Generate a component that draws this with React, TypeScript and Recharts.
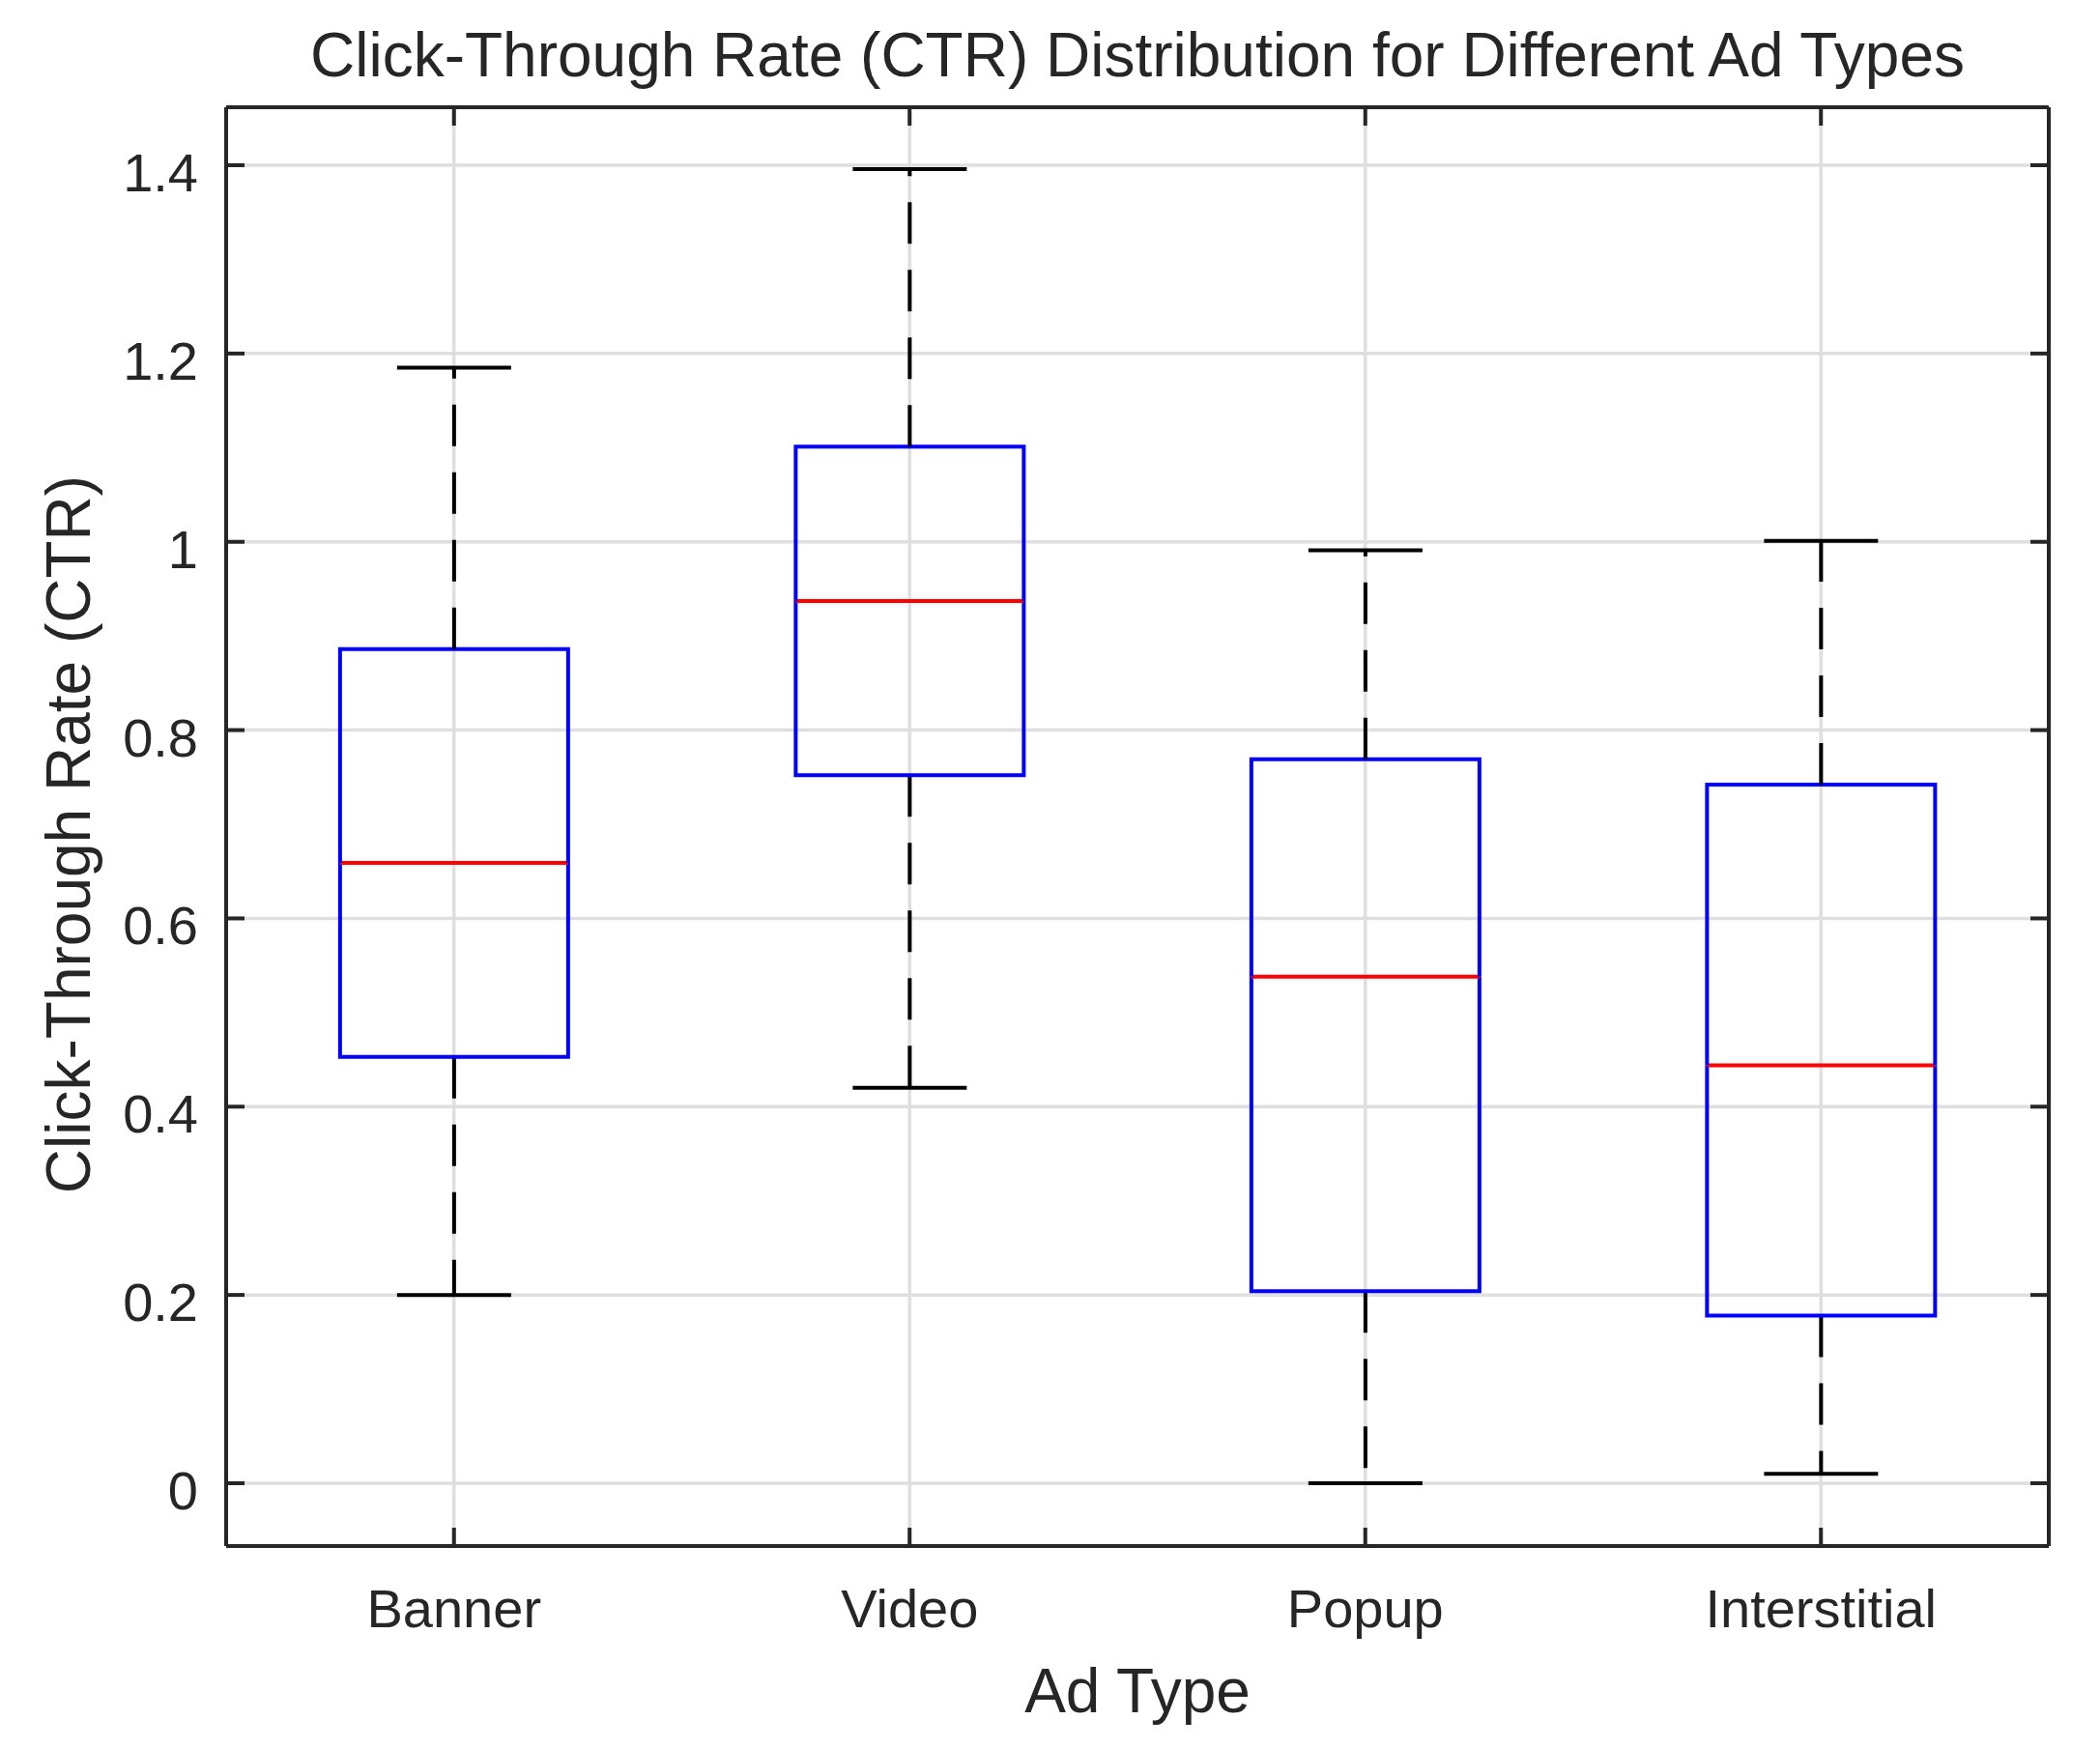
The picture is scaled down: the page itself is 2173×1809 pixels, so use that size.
import { Bar, CartesianGrid, ComposedChart, Label, XAxis, YAxis } from "recharts";

// box plot summary
const categories = ["Banner", "Video", "Popup", "Interstitial"];
const lowerWhisker = [0.2, 0.42, 0.0, 0.01];
const q1 = [0.453, 0.752, 0.204, 0.178];
const median = [0.659, 0.937, 0.538, 0.444];
const q3 = [0.886, 1.101, 0.769, 0.742];
const upperWhisker = [1.185, 1.396, 0.991, 1.001];
const yTicks = [0, 0.2, 0.4, 0.6, 0.8, 1, 1.2, 1.4];

const Y_MIN = -0.0667;
const Y_MAX = 1.4616;

const WIDTH = 2150;
const HEIGHT = 1795;
const FONT = '"Liberation Sans", Arial, Helvetica, sans-serif';
const TEXT = "#262626";
const AXIS = "#262626";
const GRID = "#dfdfdf";
const BOX = "#0000ff";
const MEDIAN = "#ff0000";
const WHISKER = "#000000";
const TICK_LEN = 19;

// stacked segments: invisible base, lower whisker, lower box half, upper box half, upper whisker
const data = categories.map((name, i) => ({
    name,
    base: lowerWhisker[i],
    lowW: q1[i] - lowerWhisker[i],
    boxLow: median[i] - q1[i],
    boxHigh: q3[i] - median[i],
    highW: upperWhisker[i] - q3[i],
}));

function formatTick(v: number) {
    return String(Number(v.toFixed(1)));
}

const LeftTick = (props: any) => {
    const { x, y, payload } = props;
    return <g>
        <line x1={x} x2={x + TICK_LEN} y1={y} y2={y} stroke={AXIS} strokeWidth={4} />
        <text x={x - 29} y={y + 27} textAnchor="end" fontSize={56} fontFamily={FONT} fill={TEXT}>{formatTick(payload.value)}</text>
    </g>
}

const RightTick = (props: any) => {
    const { x, y } = props;
    return <line x1={x} x2={x - TICK_LEN} y1={y} y2={y} stroke={AXIS} strokeWidth={4} />
}

const BottomTick = (props: any) => {
    const { x, y, payload } = props;
    return <g>
        <line x1={x} x2={x} y1={y} y2={y - TICK_LEN} stroke={AXIS} strokeWidth={4} />
        <text x={x} y={y + 84} textAnchor="middle" fontSize={56} fontFamily={FONT} fill={TEXT}>{payload.value}</text>
    </g>
}

const TopTick = (props: any) => {
    const { x, y } = props;
    return <line x1={x} x2={x} y1={y} y2={y + TICK_LEN} stroke={AXIS} strokeWidth={4} />
}

const TitleLabel = (props: any) => {
    const vb = props.viewBox;
    return <text x={vb.x + vb.width / 2} y={vb.y - 31} textAnchor="middle" fontSize={64} fontFamily={FONT} fill={TEXT}>
        Click-Through Rate (CTR) Distribution for Different Ad Types
    </text>
}

const XLabel = (props: any) => {
    const vb = props.viewBox;
    return <text x={vb.x + vb.width / 2} y={vb.y + 172} textAnchor="middle" fontSize={64} fontFamily={FONT} fill={TEXT}>Ad Type</text>
}

const YLabel = (props: any) => {
    const vb = props.viewBox;
    const cx = vb.x - 140;
    const cy = vb.y + vb.height / 2 + 8;
    return <text x={cx} y={cy} transform={`rotate(-90, ${cx}, ${cy})`} textAnchor="middle" fontSize={64} fontFamily={FONT} fill={TEXT}>
        Click-Through Rate (CTR)
    </text>
}

const EmptyShape = () => <g />;

const LowWhisker = (props: any) => {
    const { x, y, width, height } = props;
    const cx = x + width / 2;
    const capHalf = width / 4;
    return <g>
        <line x1={cx} x2={cx} y1={y} y2={y + height} stroke={WHISKER} strokeWidth={4} strokeDasharray="43 27" />
        <line x1={cx - capHalf} x2={cx + capHalf} y1={y + height} y2={y + height} stroke={WHISKER} strokeWidth={4} />
    </g>
}

const HighWhisker = (props: any) => {
    const { x, y, width, height } = props;
    const cx = x + width / 2;
    const capHalf = width / 4;
    return <g>
        <line x1={cx} x2={cx} y1={y + height} y2={y} stroke={WHISKER} strokeWidth={4} strokeDasharray="43 27" />
        <line x1={cx - capHalf} x2={cx + capHalf} y1={y} y2={y} stroke={WHISKER} strokeWidth={4} />
    </g>
}

const BoxLow = (props: any) => {
    const { x, y, width, height } = props;
    const bottom = y + height;
    return <g>
        <path d={`M${x},${y} L${x},${bottom} L${x + width},${bottom} L${x + width},${y}`} fill="none" stroke={BOX} strokeWidth={4} />
        <line x1={x} x2={x + width} y1={y} y2={y} stroke={MEDIAN} strokeWidth={4} />
    </g>
}

const BoxHigh = (props: any) => {
    const { x, y, width, height } = props;
    const bottom = y + height;
    return <path d={`M${x},${bottom} L${x},${y} L${x + width},${y} L${x + width},${bottom}`} fill="none" stroke={BOX} strokeWidth={4} />
}

const App = () => {
    return <div style={{ width: WIDTH, height: HEIGHT, background: "#fff" }}>
        <ComposedChart width={WIDTH} height={HEIGHT} data={data} barCategoryGap="25%"
            margin={{ top: 102, right: 37, bottom: 202, left: 225 }}>
            <CartesianGrid stroke={GRID} strokeWidth={3.5} />
            <XAxis dataKey="name" height={1} interval={0} axisLine={{ stroke: AXIS, strokeWidth: 4 }}
                tickLine={false} tickSize={0} tickMargin={0} tick={BottomTick}>
                <Label content={XLabel} />
            </XAxis>
            <XAxis xAxisId="top" orientation="top" dataKey="name" height={1} interval={0}
                axisLine={{ stroke: AXIS, strokeWidth: 4 }} tickLine={false} tickSize={0} tickMargin={0} tick={TopTick}>
                <Label content={TitleLabel} />
            </XAxis>
            <YAxis type="number" domain={[Y_MIN, Y_MAX]} ticks={yTicks} allowDataOverflow width={1}
                axisLine={{ stroke: AXIS, strokeWidth: 4 }} tickLine={false} tickSize={0} tickMargin={0} tick={LeftTick}>
                <Label content={YLabel} />
            </YAxis>
            <YAxis yAxisId="right" orientation="right" type="number" domain={[Y_MIN, Y_MAX]} ticks={yTicks} allowDataOverflow
                width={1} axisLine={{ stroke: AXIS, strokeWidth: 4 }} tickLine={false} tickSize={0} tickMargin={0} tick={RightTick} />
            <Bar dataKey="base" stackId="s" isAnimationActive={false} shape={EmptyShape} />
            <Bar dataKey="lowW" stackId="s" isAnimationActive={false} shape={LowWhisker} />
            <Bar dataKey="boxLow" stackId="s" isAnimationActive={false} shape={BoxLow} />
            <Bar dataKey="boxHigh" stackId="s" isAnimationActive={false} shape={BoxHigh} />
            <Bar dataKey="highW" stackId="s" isAnimationActive={false} shape={HighWhisker} />
        </ComposedChart>
    </div>
}

export default App;
